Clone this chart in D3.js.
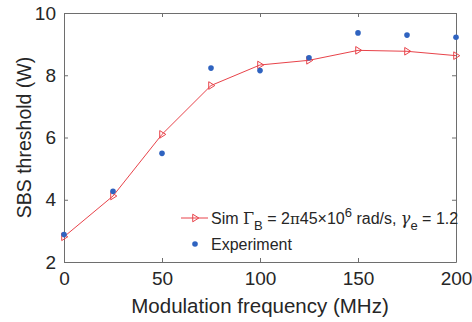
<!DOCTYPE html>
<html>
<head>
<meta charset="utf-8">
<script src="https://cdn.jsdelivr.net/npm/d3@7"></script>
<style>
  body { margin: 0; background: #fff; }
  text { font-family: "Liberation Sans", Arial, sans-serif; fill: #262626; }
</style>
</head>
<body>
<svg id="chart" width="472" height="322"></svg>
<script>
// data
const freq = [0, 25, 50, 75, 100, 125, 150, 175, 200];
const simThreshold = [2.81, 4.12, 6.10, 7.67, 8.33, 8.48, 8.80, 8.77, 8.63];
const expThreshold = [2.88, 4.27, 5.49, 8.23, 8.15, 8.56, 9.36, 9.29, 9.22];
const xTicks = [0, 50, 100, 150, 200];
const yTicks = [2, 4, 6, 8, 10];

const svg = d3.select('#chart');
const plotLeft = 64, plotRight = 456, plotTop = 13, plotBottom = 262;

const x = d3.scaleLinear().domain([0, 200]).range([plotLeft, plotRight]);
const y = d3.scaleLinear().domain([2, 10]).range([plotBottom, plotTop]);

const axisColor = '#6e6e6e';
const tickLen = 4;

// axes box with inward ticks on all four sides
svg.append('g')
    .attr('transform', `translate(0,${plotBottom})`)
    .call(d3.axisBottom(x).tickValues(xTicks).tickSizeInner(-tickLen).tickSizeOuter(0).tickPadding(10))
    .call(g => g.selectAll('text').attr('font-size', 19).attr('dy', '0.71em'));
svg.append('g')
    .attr('transform', `translate(0,${plotTop})`)
    .call(d3.axisTop(x).tickValues(xTicks).tickSizeInner(-tickLen).tickSizeOuter(0).tickFormat(''));
svg.append('g')
    .attr('transform', `translate(${plotLeft},0)`)
    .call(d3.axisLeft(y).tickValues(yTicks).tickSizeInner(-tickLen).tickSizeOuter(0).tickPadding(8))
    .call(g => g.selectAll('text').attr('font-size', 19));
svg.append('g')
    .attr('transform', `translate(${plotRight},0)`)
    .call(d3.axisRight(y).tickValues(yTicks).tickSizeInner(-tickLen).tickSizeOuter(0).tickFormat(''));

svg.selectAll('.domain').attr('stroke', axisColor);
svg.selectAll('.tick line').attr('stroke', axisColor);
svg.selectAll('.tick text').attr('fill', '#262626');

// axis titles
svg.append('text')
    .attr('x', (plotLeft + plotRight) / 2).attr('y', 313)
    .attr('text-anchor', 'middle').attr('font-size', 20.5)
    .text('Modulation frequency (MHz)');
svg.append('text')
    .attr('transform', `translate(31,${(plotTop + plotBottom) / 2}) rotate(-90)`)
    .attr('text-anchor', 'middle').attr('font-size', 19.5)
    .text('SBS threshold (W)');

const red = '#e8434a';
const blue = '#2f63c0';

// triangle pointing right
function triRight(cx, cy, s) {
    return `M${cx - s * 0.6},${cy - s} L${cx + s},${cy} L${cx - s * 0.6},${cy + s} Z`;
}

// simulation line
const sim = freq.map((f, i) => [f, simThreshold[i]]);
svg.append('path')
    .datum(sim)
    .attr('fill', 'none')
    .attr('stroke', red)
    .attr('stroke-width', 1)
    .attr('d', d3.line().x(d => x(d[0])).y(d => y(d[1])));
svg.append('g').selectAll('path')
    .data(sim)
    .enter()
    .append('path')
    .attr('d', d => triRight(x(d[0]), y(d[1]), 3.8))
    .attr('fill', 'none')
    .attr('stroke', red)
    .attr('stroke-width', 1);

// experiment points
svg.append('g').selectAll('circle')
    .data(freq.map((f, i) => [f, expThreshold[i]]))
    .enter()
    .append('circle')
    .attr('cx', d => x(d[0]))
    .attr('cy', d => y(d[1]))
    .attr('r', 2.8)
    .attr('fill', blue);

// legend
const leg = svg.append('g');
leg.append('line')
    .attr('x1', 181).attr('x2', 208).attr('y1', 218).attr('y2', 218)
    .attr('stroke', red).attr('stroke-width', 1);
leg.append('path')
    .attr('d', triRight(195, 218, 3.8))
    .attr('fill', 'none').attr('stroke', red);
leg.append('circle')
    .attr('cx', 195).attr('cy', 244).attr('r', 2.8).attr('fill', blue);

const simLabel = leg.append('text')
    .attr('x', 211).attr('y', 224)
    .attr('font-size', 16);
simLabel.append('tspan').text('Sim ');
simLabel.append('tspan').attr('font-family', 'DejaVu Serif').text('Γ');
simLabel.append('tspan').attr('font-size', 13).attr('dy', 6).text('B');
simLabel.append('tspan').attr('dy', -6).text(' = 2');
simLabel.append('tspan').attr('font-family', 'DejaVu Serif').attr('font-size', 15).text('π');
simLabel.append('tspan').text('45×10');
simLabel.append('tspan').attr('font-size', 13).attr('dy', -7).text('6');
simLabel.append('tspan').attr('dy', 7).text(' rad/s, ');
simLabel.append('tspan').attr('font-family', 'DejaVu Serif').attr('font-style', 'italic').text('γ');
simLabel.append('tspan').attr('font-size', 13).attr('dy', 6).text('e');
simLabel.append('tspan').attr('dy', -6).text(' = 1.2');

leg.append('text')
    .attr('x', 211).attr('y', 250)
    .attr('font-size', 16)
    .text('Experiment');
</script>
</body>
</html>
